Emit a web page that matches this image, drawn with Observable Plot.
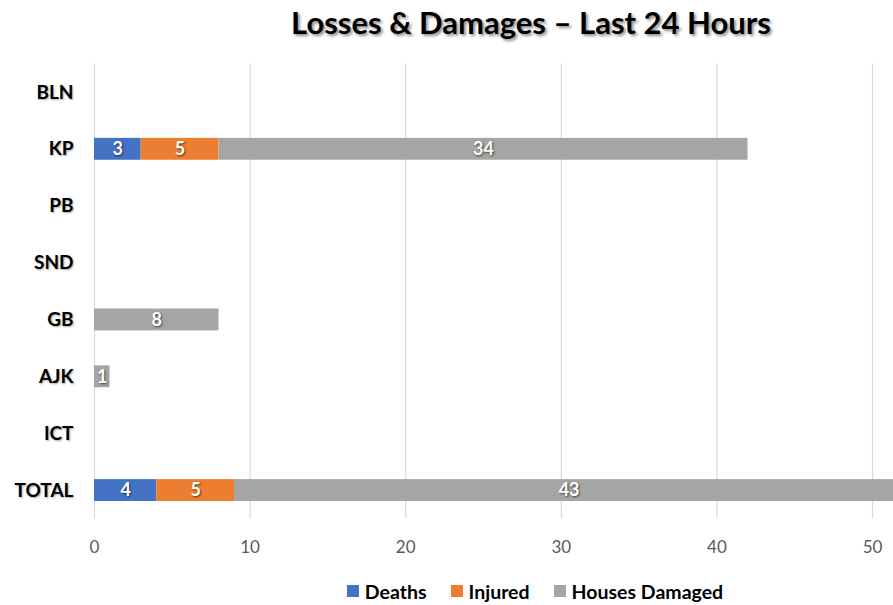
<!DOCTYPE html>
<html><head><meta charset="utf-8">
<script src="https://cdn.jsdelivr.net/npm/d3@7"></script>
<script src="https://cdn.jsdelivr.net/npm/@observablehq/plot@0.6"></script>
<style>
body{margin:0;background:#fff;overflow:hidden;font-family:Lato,"Open Sans",sans-serif;}
#wrap{position:relative;width:893px;height:605px;overflow:hidden;background:#fff;}
#title{position:absolute;top:0;left:0;width:893px;height:44px;line-height:44px;text-align:center;padding-left:169px;box-sizing:border-box;font-weight:700;font-size:31px;color:#000;text-shadow:2px 2px 3px rgba(0,0,0,0.45);white-space:nowrap;}
#chart{position:absolute;top:50px;left:0;}
#chart svg{overflow:hidden;}
#legend{position:absolute;top:578px;left:0;width:893px;height:26px;display:flex;justify-content:center;align-items:center;padding-left:177px;box-sizing:border-box;font-weight:700;font-size:19.5px;color:#000;}
.li{display:flex;align-items:center;margin:0 12px;}
.sw{width:12px;height:12px;margin-right:6px;}
[aria-label^="y-axis"] text{font-weight:700;font-size:19px;fill:#000;text-shadow:1px 1px 2px rgba(0,0,0,0.35);}
[aria-label^="x-axis"] text{font-size:17px;fill:#595959;}
g[aria-label="text"] text{text-shadow:1px 1px 2px rgba(0,0,0,0.6);}
</style>
</head><body>
<div id="wrap">
<div id="title">Losses &amp; Damages – Last 24 Hours</div>
<div id="chart"></div>
<div id="legend"></div>
</div>
<script>
const categories = ["BLN","KP","PB","SND","GB","AJK","ICT","TOTAL"];
const seriesNames = ["Deaths","Injured","Houses Damaged"];
const seriesColors = ["#4472C4","#ED7D31","#A5A5A5"];
const deaths = [0,3,0,0,0,0,0,4];
const injured = [0,5,0,0,0,0,0,5];
const housesDamaged = [0,34,0,0,8,1,0,43];
const xTicks = [0,10,20,30,40,50];

const seriesValues = [deaths, injured, housesDamaged];
const rows = [];
categories.forEach((c, i) => {
  seriesNames.forEach((s, j) => {
    const v = seriesValues[j][i];
    if (v > 0) rows.push({cat: c, series: s, value: v});
  });
});

const chart = Plot.plot({
  width: 893,
  height: 515,
  marginLeft: 94,
  marginRight: 0,
  marginTop: 13.5,
  marginBottom: 46.5,
  style: {fontFamily: "Lato, 'Open Sans', sans-serif", fontSize: "16px", background: "#fff", overflow: "hidden"},
  x: {domain: [0, 51.35], ticks: xTicks, label: null, tickSize: 0, tickPadding: 22},
  y: {domain: categories, padding: 0, round: false, label: null, tickSize: 0, tickPadding: 21},
  color: {domain: seriesNames, range: seriesColors},
  marks: [
    Plot.ruleX(xTicks, {stroke: "#d9d9d9", strokeWidth: 1.2}),
    Plot.barX(rows, Plot.stackX({x: "value", y: "cat", fill: "series", insetTop: 17.5, insetBottom: 17.5})),
    Plot.text(rows, Plot.stackX({x: "value", y: "cat", z: "series", text: d => String(d.value), fill: "white", fontWeight: 700, fontSize: 18}))
  ]
});
document.getElementById("chart").appendChild(chart);

const legend = document.getElementById("legend");
seriesNames.forEach((s, i) => {
  const item = document.createElement("div");
  item.className = "li";
  const sw = document.createElement("div");
  sw.className = "sw";
  sw.style.background = seriesColors[i];
  const t = document.createElement("span");
  t.textContent = s;
  item.appendChild(sw);
  item.appendChild(t);
  legend.appendChild(item);
});
</script>
</body></html>
